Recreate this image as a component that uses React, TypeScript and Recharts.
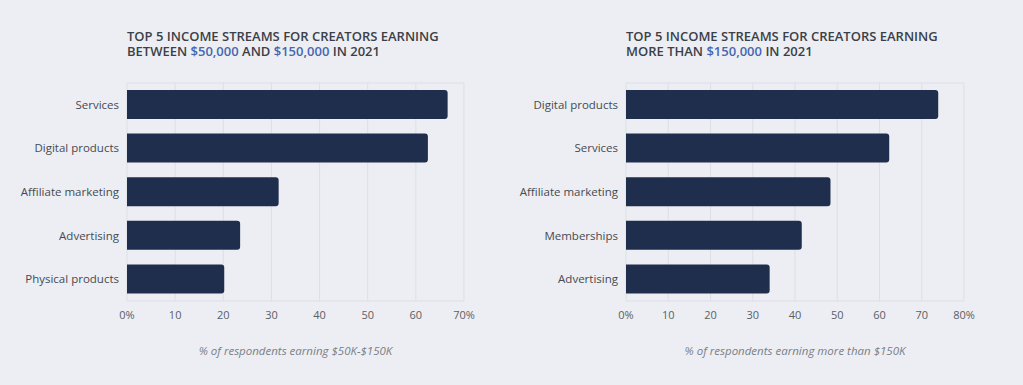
import { BarChart, Bar, XAxis, YAxis, CartesianGrid } from "recharts";

const midCategories = ["Services", "Digital products", "Affiliate marketing", "Advertising", "Physical products"];
const midValues = [66.6, 62.5, 31.5, 23.5, 20.2];
const midTicks = [0, 10, 20, 30, 40, 50, 60, 70];

const topCategories = ["Digital products", "Services", "Affiliate marketing", "Memberships", "Advertising"];
const topValues = [73.9, 62.3, 48.4, 41.6, 34.0];
const topTicks = [0, 10, 20, 30, 40, 50, 60, 70, 80];

const FONT = "'Open Sans', sans-serif";
const BAR = "#202e4d";
const TITLE = "#3b3f47";
const BLUE = "#4766ae";

interface PanelProps {
  left: number;
  categories: string[];
  values: number[];
  ticks: number[];
  axisWidth: number;
  titleLines: React.ReactNode[];
  axisLabel: string;
}

function Panel({ left, categories, values, ticks, axisWidth, titleLines, axisLabel }: PanelProps) {
  const data = categories.map((name, i) => ({ name, value: values[i] }));
  const max = ticks[ticks.length - 1];
  const width = 490;
  const plotLeft = axisWidth;
  const plotRight = width - 26;

  return (
    <div style={{ position: "absolute", left, top: 0, width, height: 385 }}>
      {/* title, two lines */}
      <div
        style={{
          position: "absolute",
          left: plotLeft,
          top: 29,
          fontFamily: FONT,
          fontWeight: 600,
          fontSize: 13,
          lineHeight: "15px",
          color: TITLE,
          whiteSpace: "nowrap",
        }}
      >
        {titleLines.map((l, i) => (
          <div key={i} style={{ height: 15, overflow: "visible" }}>{l}</div>
        ))}
      </div>
      <BarChart
        width={width}
        height={385}
        data={data}
        layout="vertical"
        margin={{ top: 83, right: 26, bottom: 54, left: 0 }}
        barSize={29}
      >
        <CartesianGrid
          stroke="#dcdfe6"
          horizontalCoordinatesGenerator={({ offset }: any) => [offset.top, offset.top + offset.height]}
        />
        <XAxis
          type="number"
          domain={[0, max]}
          ticks={ticks}
          interval={0}
          tickFormatter={(v: number) => (v === 0 || v === max ? `${v}%` : `${v}`)}
          axisLine={false}
          tickLine={false}
          tickMargin={4}
          height={30}
          tick={{ fill: "#5a5e66", fontSize: 11, fontFamily: FONT }}
        />
        <YAxis
          type="category"
          dataKey="name"
          width={axisWidth}
          axisLine={false}
          tickLine={false}
          tick={{ fill: "#464a52", fontSize: 11.5, fontFamily: FONT }}
        />
        <Bar dataKey="value" fill={BAR} radius={[0, 3, 3, 0]} isAnimationActive={false} />
      </BarChart>
      <div
        style={{
          position: "absolute",
          left: plotLeft,
          width: plotRight - plotLeft,
          top: 343,
          textAlign: "center",
          fontFamily: FONT,
          fontStyle: "italic",
          fontSize: 11.5,
          color: "#7a7e86",
        }}
      >
        {axisLabel}
      </div>
    </div>
  );
}

export default function App() {
  return (
    <div
      style={{
        position: "fixed",
        left: 0,
        top: 0,
        width: 1023,
        height: 385,
        background: "#eceef3",
        overflow: "hidden",
      }}
    >
      <Panel
        left={0}
        categories={midCategories}
        values={midValues}
        ticks={midTicks}
        axisWidth={127}
        titleLines={[
          "TOP 5 INCOME STREAMS FOR CREATORS EARNING",
          <>
            BETWEEN <span style={{ color: BLUE }}>$50,000</span> AND{" "}
            <span style={{ color: BLUE }}>$150,000</span> IN 2021
          </>,
        ]}
        axisLabel="% of respondents earning $50K-$150K"
      />
      <Panel
        left={500}
        categories={topCategories}
        values={topValues}
        ticks={topTicks}
        axisWidth={126}
        titleLines={[
          "TOP 5 INCOME STREAMS FOR CREATORS EARNING",
          <>
            MORE THAN <span style={{ color: BLUE }}>$150,000</span> IN 2021
          </>,
        ]}
        axisLabel="% of respondents earning more than $150K"
      />
    </div>
  );
}
